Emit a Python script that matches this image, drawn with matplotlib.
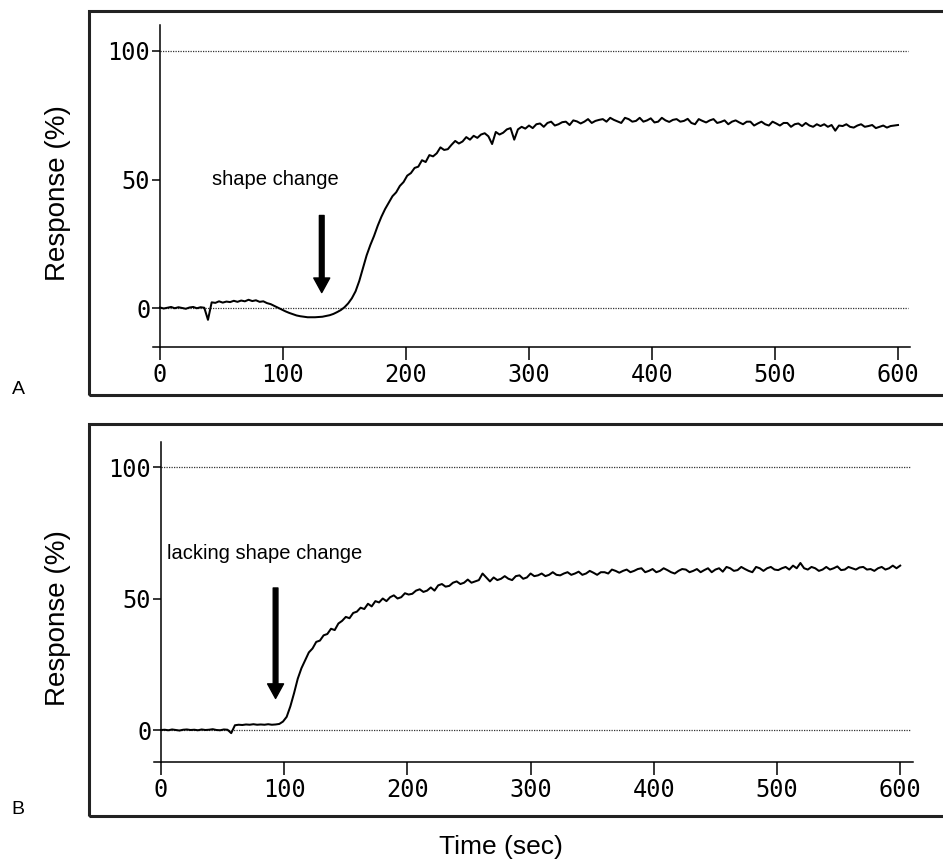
import numpy as np
import matplotlib
matplotlib.use("Agg")
import matplotlib.pyplot as plt
from matplotlib.patches import Rectangle

# ---------------- data ----------------
time_sec = np.arange(0, 601, 3)  # sampling times (s)

response_A = [
    0.2, -0.2, 0.1, 0.4, -0.1, 0.3, 0.0, -0.3, 0.2, 0.4,          # 0-27
    -0.1, 0.3, 0.1, -4.6, 2.2, 2.0, 2.6, 2.1, 2.5, 2.3,           # 30-57
    2.8, 2.4, 2.9, 2.6, 3.2, 2.7, 3.0, 2.4, 2.6, 1.9,             # 60-87
    1.5, 0.8, 0.1, -0.6, -1.3, -1.9, -2.4, -2.9, -3.2, -3.4,      # 90-117
    -3.6, -3.6, -3.6, -3.5, -3.4, -3.1, -2.8, -2.3, -1.6, -0.8,   # 120-147
    0.3, 1.8, 3.8, 6.5, 10.5, 15.5, 20.5, 24.5, 28.0, 32.0,       # 150-177
    35.5, 38.5, 41.0, 43.5, 45.0, 47.5, 49.0, 51.5, 52.5, 54.5,   # 180-207
    55.0, 57.5, 56.8, 59.5, 59.0, 60.2, 62.5, 61.5, 61.8, 63.5,   # 210-237
    65.0, 64.0, 64.8, 66.5, 65.5, 67.0, 66.2, 67.5, 68.0, 66.8,   # 240-267
    63.8, 68.5, 67.5, 68.2, 69.5, 70.0, 65.5, 69.5, 70.5, 69.8,   # 270-297
    71.0, 70.0, 71.5, 71.8, 70.5, 72.0, 72.5, 71.0, 71.5, 72.3,   # 300-327
    72.5, 71.2, 73.0, 72.6, 71.8, 72.5, 73.5, 72.0, 72.8, 73.2,   # 330-357
    73.5, 72.5, 74.0, 73.2, 72.6, 72.0, 74.0, 73.5, 72.5, 72.8,   # 360-387
    74.0, 72.5, 73.0, 73.8, 72.2, 72.5, 74.0, 73.0, 72.4, 73.2,   # 390-417
    73.5, 72.5, 72.8, 73.6, 72.0, 71.5, 73.5, 72.8, 72.2, 73.0,   # 420-447
    73.5, 72.0, 72.4, 73.0, 71.5, 72.5, 73.0, 72.2, 71.5, 72.5,   # 450-477
    72.5, 71.0, 71.8, 72.5, 71.5, 71.0, 72.5, 71.8, 71.0, 72.0,   # 480-507
    72.0, 70.5, 71.5, 71.8, 70.8, 72.0, 71.0, 70.5, 71.5, 70.8,   # 510-537
    71.5, 70.5, 71.2, 69.0, 71.0, 70.8, 71.5, 70.5, 70.2, 71.0,   # 540-567
    71.5, 70.5, 70.8, 71.2, 70.0, 70.5, 71.0, 70.2, 70.8, 71.0,   # 570-597
    71.2,                                                        # 600
]

response_B = [
    0.0, 0.1, -0.1, 0.2, 0.0, -0.2, 0.1, 0.2, 0.0, 0.1,           # 0-27
    -0.1, 0.2, 0.0, 0.1, 0.3, 0.0, -0.1, 0.2, 0.1, -1.2,          # 30-57
    1.8, 2.0, 1.9, 2.1, 2.0, 2.2, 2.0, 2.1, 2.0, 2.2,             # 60-87
    2.0, 2.1, 2.3, 3.2, 5.0, 9.0, 14.0, 19.5, 23.5, 26.5,         # 90-117
    29.5, 31.0, 33.5, 34.0, 36.0, 36.5, 38.5, 38.0, 40.5, 41.5,   # 120-147
    43.0, 42.5, 44.5, 45.0, 46.5, 46.0, 48.0, 47.0, 49.0, 48.5,   # 150-177
    50.0, 49.0, 50.5, 51.2, 50.0, 50.5, 52.0, 51.5, 51.8, 53.0,   # 180-207
    53.5, 52.5, 53.0, 54.2, 53.0, 55.0, 55.5, 54.5, 54.8, 56.0,   # 210-237
    56.5, 55.5, 56.0, 57.2, 56.0, 56.5, 57.0, 59.5, 58.0, 56.5,   # 240-267
    58.0, 57.0, 57.5, 58.5, 57.5, 57.0, 58.5, 58.8, 57.5, 58.0,   # 270-297
    59.5, 58.5, 58.8, 59.5, 58.5, 59.0, 60.0, 59.0, 58.8, 59.5,   # 300-327
    60.0, 59.0, 59.5, 60.2, 59.0, 59.5, 60.5, 59.8, 59.0, 60.0,   # 330-357
    60.0, 59.5, 61.0, 60.5, 59.8, 60.5, 61.0, 60.0, 60.5, 61.2,   # 360-387
    61.5, 60.0, 60.5, 61.2, 60.0, 60.5, 61.5, 60.8, 60.0, 59.5,   # 390-417
    60.5, 61.2, 61.0, 60.0, 60.5, 61.2, 60.0, 60.8, 61.5, 60.0,   # 420-447
    61.0, 61.5, 60.2, 62.0, 61.5, 60.5, 60.8, 62.0, 61.2, 60.5,   # 450-477
    60.0, 62.0, 61.5, 60.5, 61.5, 62.0, 61.0, 60.8, 61.5, 62.0,   # 480-507
    61.0, 62.5, 61.5, 63.5, 61.5, 61.0, 62.0, 61.5, 60.5, 61.0,   # 510-537
    62.0, 61.0, 61.5, 62.2, 60.8, 61.0, 62.0, 61.5, 61.0, 61.8,   # 540-567
    62.0, 61.0, 61.2, 60.5, 61.5, 62.0, 61.0, 61.5, 62.5, 61.5,   # 570-597
    62.5,                                                        # 600
]

x_ticks = [0, 100, 200, 300, 400, 500, 600]
y_ticks = [0, 50, 100]
ref_levels = [0, 100]
panel_letters = ["A", "B"]
notes = ["shape change", "lacking shape change"]
note_xy = [(42, 50), (5, 67.3)]
arrow_x = [131.5, 93]
arrow_from_to = [(36, 6), (54, 12)]

# ---------------- figure ----------------
W, H = 943, 864
fig = plt.figure(figsize=(W / 100, H / 100), dpi=100)

sans = "Liberation Sans"
mono = "DejaVu Sans Mono"

panels = [
    dict(rect=(150, 20, 915, 350), xlim=((150 - 160) / 1.23, (915 - 160) / 1.23),
         ylim=((308 - 350) / 2.57, (308 - 20) / 2.57), base=-15, ytop=110,
         box=(89, 11, 395), ylab_y=193, data=response_A),
    dict(rect=(150, 435, 915, 770), xlim=((150 - 161) / 1.232, (915 - 161) / 1.232),
         ylim=((730 - 770) / 2.63, (730 - 435) / 2.63), base=-12, ytop=109.5,
         box=(89, 424, 816), ylab_y=618, data=response_B),
]

for i, p in enumerate(panels):
    x0, y0, x1, y1 = p["rect"]
    ax = fig.add_axes([x0 / W, 1 - y1 / H, (x1 - x0) / W, (y1 - y0) / H])
    ax.set_xlim(*p["xlim"])
    ax.set_ylim(*p["ylim"])
    ax.patch.set_alpha(0)

    for lev in ref_levels:
        ax.plot([0, 608], [lev, lev], ls=(0, (1, 1)), lw=0.9, color="#333333")

    ax.plot(time_sec, p["data"], color="black", lw=1.45)

    for s in ["top", "right"]:
        ax.spines[s].set_visible(False)
    ax.spines["left"].set_position(("data", 0))
    ax.spines["bottom"].set_position(("data", p["base"]))
    ax.spines["left"].set_bounds(p["base"], p["ytop"])
    ax.spines["bottom"].set_bounds(-6, 610)
    for s in ["left", "bottom"]:
        ax.spines[s].set_linewidth(1.1)

    ax.set_xticks(x_ticks)
    ax.set_yticks(y_ticks)
    ax.tick_params(axis="x", direction="out", length=9, width=1.1, pad=3,
                   labelsize=17)
    ax.tick_params(axis="y", direction="out", length=6, width=1.1, pad=1,
                   labelsize=17)
    for lab in ax.get_xticklabels() + ax.get_yticklabels():
        lab.set_family(mono)

    ax.text(note_xy[i][0], note_xy[i][1], notes[i], fontsize=14.5, family=sans,
            ha="left", va="center")
    a_from, a_to = arrow_from_to[i]
    ax.annotate("", xy=(arrow_x[i], a_to), xytext=(arrow_x[i], a_from),
                arrowprops=dict(facecolor="black", edgecolor="black", width=3.4,
                                headwidth=11.5, headlength=10.5, shrink=0))

    bx, by0, by1 = p["box"]
    fig.add_artist(Rectangle((bx / W, 1 - by1 / H), 1.2, (by1 - by0) / H,
                             transform=fig.transFigure, fill=False, lw=2.2,
                             edgecolor="#222222", clip_on=False))

    fig.text(58 / W, 1 - p["ylab_y"] / H, "Response (%)", rotation=90,
             ha="center", va="center", fontsize=20, family=sans)
    fig.text(18 / W, 1 - (390 if i == 0 else 810) / H, panel_letters[i],
             ha="center", va="center", fontsize=14, family=sans)

fig.text(501 / W, 1 - 847 / H, "Time (sec)", ha="center", va="center",
         fontsize=19, family=sans)

fig.savefig("out.png", dpi=100)
